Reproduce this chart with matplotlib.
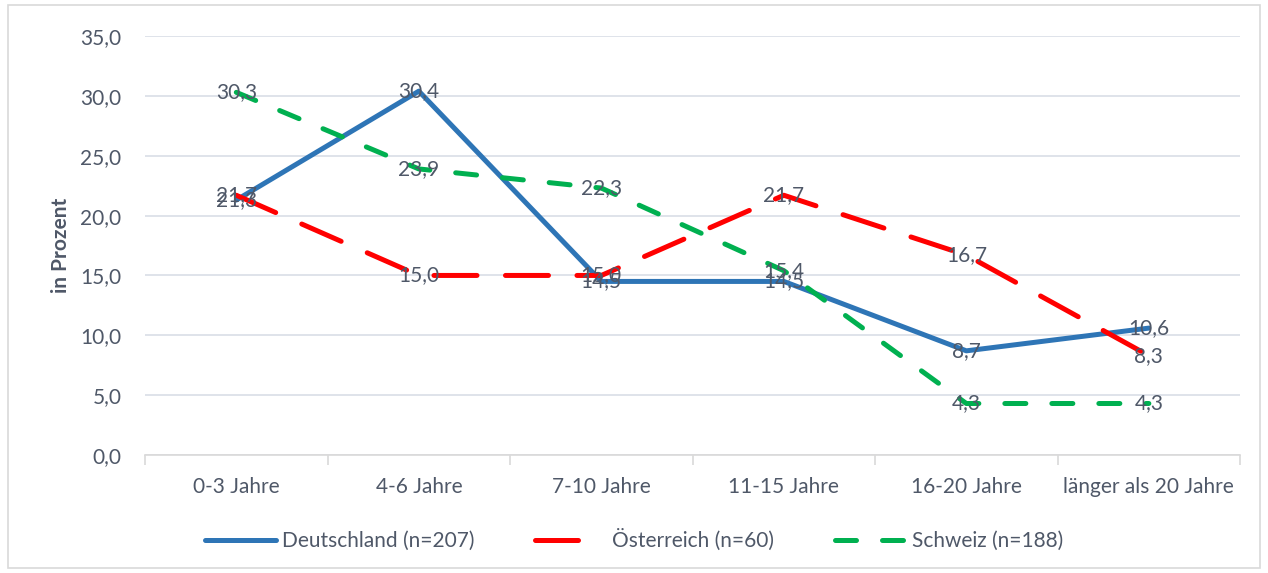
import numpy as np
import matplotlib
matplotlib.use("Agg")
import matplotlib.pyplot as plt
from matplotlib.patches import Rectangle

categories = ["0-3 Jahre", "4-6 Jahre", "7-10 Jahre", "11-15 Jahre", "16-20 Jahre", "länger als 20 Jahre"]
deutschland = [21.3, 30.4, 14.5, 14.5, 8.7, 10.6]
oesterreich = [21.7, 15.0, 15.0, 21.7, 16.7, 8.3]
schweiz = [30.3, 23.9, 22.3, 15.4, 4.3, 4.3]
series_names = ["Deutschland (n=207)", "Österreich (n=60)", "Schweiz (n=188)"]
y_ticks = [0, 5, 10, 15, 20, 25, 30, 35]

plt.rcParams['font.family'] = ['Lato', 'DejaVu Sans']
text_col = '#4F5868'
fs = 15

fig = plt.figure(figsize=(12.68, 5.73), dpi=100)
ax = fig.add_axes([0.1144, 0.206, 0.8636, 0.731])

# thin grey frame round the whole chart
fig.patches.append(Rectangle((0.006, 0.008), 0.988, 0.984, transform=fig.transFigure,
                             fill=False, edgecolor='#D9D9D9', linewidth=1.2))

x = np.arange(len(categories))
lw = 3.6
l1, = ax.plot(x, deutschland, color='#2E75B6', linewidth=lw, solid_capstyle='round',
              label=series_names[0], zorder=3)
l2, = ax.plot(x, oesterreich, color='#FF0000', linewidth=lw, dash_capstyle='round',
              dashes=(8.6, 5.7), label=series_names[1], zorder=3)
l3, = ax.plot(x, schweiz, color='#00B050', linewidth=lw, dash_capstyle='round',
              dashes=(4.2, 5.2), label=series_names[2], zorder=3)

# data labels centred on the points
for vals in (deutschland, oesterreich, schweiz):
    for xi, v in zip(x, vals):
        ax.text(xi, v, f"{v:.1f}".replace('.', ','), ha='center', va='center',
                fontsize=fs, color=text_col, zorder=4)

ax.set_xlim(-0.5, len(categories) - 0.5)
ax.set_ylim(0, 35)
ax.set_yticks(y_ticks)
ax.set_yticklabels([f"{t:.1f}".replace('.', ',') for t in y_ticks])
ax.set_xticks(x)
ax.set_xticklabels(categories)
ax.set_xticks(np.arange(-0.5, len(categories)), minor=True)
ax.tick_params(axis='x', which='major', length=0, pad=16, labelsize=fs, labelcolor=text_col)
ax.tick_params(axis='x', which='minor', length=7, color='#D9D9D9', width=1.2)
ax.tick_params(axis='y', length=0, pad=17, labelsize=fs, labelcolor=text_col)

ax.grid(axis='y', color='#D9DEE6', linewidth=1.2)
ax.set_axisbelow(True)
for s in ('top', 'right', 'left'):
    ax.spines[s].set_visible(False)
ax.spines['bottom'].set_color('#D9D9D9')
ax.spines['bottom'].set_linewidth(1.2)

ax.set_ylabel("in Prozent", fontsize=fs, fontweight='bold', color=text_col)
ax.yaxis.set_label_coords(-0.068, 0.5)

fig.legend(handles=[l1, l2, l3], loc='center', bbox_to_anchor=(0.5, 0.058), ncol=3,
           frameon=False, fontsize=fs, labelcolor=text_col, handlelength=3.4,
           columnspacing=2.9, handletextpad=0.3)

fig.savefig("out.png", dpi=100)
